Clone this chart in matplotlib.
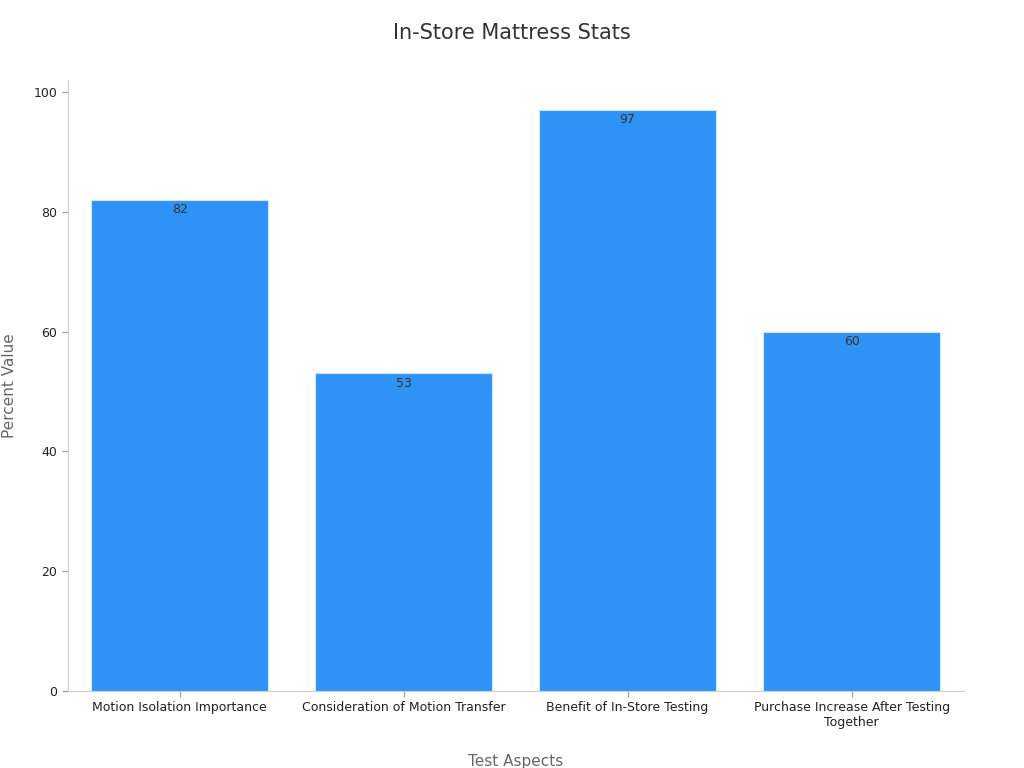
import matplotlib
matplotlib.use('Agg')
import matplotlib.pyplot as plt

categories = ['Motion Isolation Importance', 'Consideration of Motion Transfer',
              'Benefit of In-Store Testing', 'Purchase Increase After Testing\nTogether']
values = [82, 53, 97, 60]

fig = plt.figure(figsize=(10.24, 7.68), dpi=100)
ax = fig.add_axes([0.066, 0.1003, 0.875, 0.7957])

bars = ax.bar(range(len(values)), values, width=0.79, color='#2E93F5', edgecolor='#cfe4fb', linewidth=0.8)
for b, v in zip(bars, values):
    ax.text(b.get_x() + b.get_width() / 2, v - 0.6, str(v), ha='center', va='top',
            fontsize=9, color='#333333')

ax.set_xlim(-0.5, 3.5)
ax.set_ylim(0, 102)
ax.set_yticks([0, 20, 40, 60, 80, 100])
ax.set_xticks(range(len(values)))
ax.set_xticklabels(categories, fontsize=9, color='#222222')
ax.tick_params(axis='y', labelsize=9, colors='#222222')
ax.tick_params(color='#999999', length=4)

for s in ['top', 'right']:
    ax.spines[s].set_visible(False)
for s in ['left', 'bottom']:
    ax.spines[s].set_color('#cccccc')

ax.set_xlabel('Test Aspects', fontsize=11, color='#666666', labelpad=18)
ax.set_ylabel('Percent Value', fontsize=11, color='#666666', labelpad=12)
fig.text(0.5, 0.957, 'In-Store Mattress Stats', ha='center', va='center', fontsize=15, color='#333333')

fig.savefig('out.png', dpi=100)
